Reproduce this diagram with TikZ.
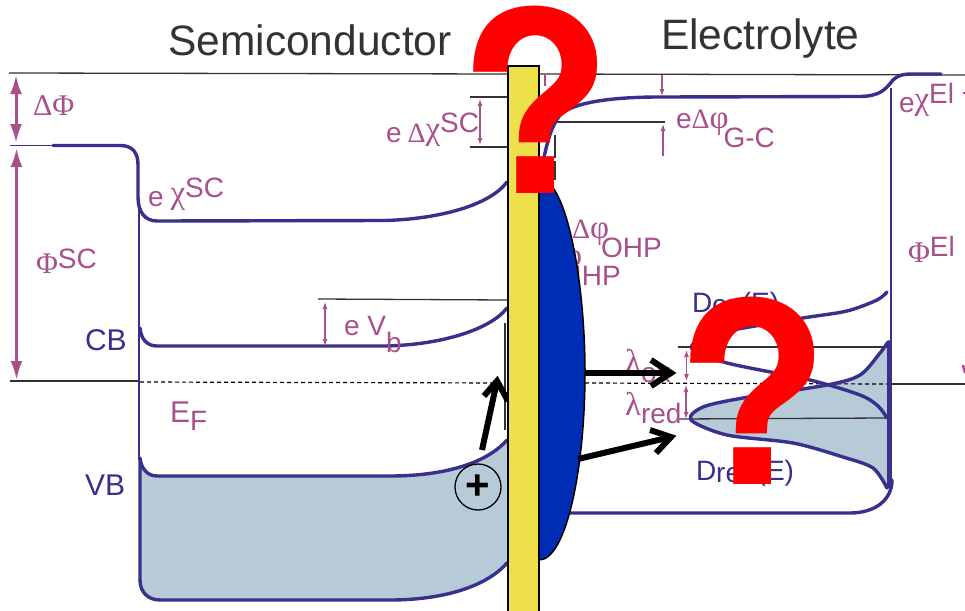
\documentclass[tikz,border=0pt]{standalone}
\usepackage{fontspec}
\setmainfont{Liberation Sans}
\newfontfamily\grk{Liberation Serif}
\newfontfamily\qf{TeX Gyre Heros}
\usetikzlibrary{arrows.meta}
\definecolor{pk}{HTML}{A94F8B}
\definecolor{bl}{HTML}{38308C}
\definecolor{vbfill}{HTML}{B7CAD8}
\definecolor{yel}{HTML}{EDE04A}
\definecolor{dkb}{HTML}{002DB5}
\definecolor{dk}{HTML}{333333}
\newcommand{\upr}[2]{\raisebox{#1pt}{#2}}
\newcommand{\G}[1]{{\grk #1}}
\newcommand{\GG}[1]{{\grk\fontsize{33}{33}\selectfont #1}}
\newcommand{\GX}{\raisebox{3pt}{\GG{χ}}}
\tikzset{
  lab/.style={anchor=base west,inner sep=0pt,outer sep=0pt,text=pk,font=\fontsize{28}{28}\selectfont},
  blab/.style={anchor=base west,inner sep=0pt,outer sep=0pt,text=bl,font=\fontsize{30}{30}\selectfont},
  title/.style={anchor=base west,inner sep=0pt,text=dk,font=\fontsize{42.5}{42.5}\selectfont},
  band/.style={draw=bl,line width=3.4pt,line cap=round,line join=round},
  thinb/.style={draw=bl,line width=1.1pt},
  lev/.style={draw=dk,line width=1.3pt},
  small/.style={draw=pk,line width=1.2pt,{Latex[length=7pt,width=5pt]}-{Latex[length=7pt,width=5pt]}},
  big/.style={draw=pk,line width=3pt,{Latex[length=19pt,width=12pt]}-{Latex[length=19pt,width=12pt]}},
  blk/.style={draw=black,line width=6pt,line join=miter,miter limit=10},
  qm/.style={anchor=base,inner sep=0pt,text=red,font=\fontsize{252}{252}\qf\bfseries\selectfont},
}
\begin{document}
\begin{tikzpicture}[x=1pt,y=-1pt]
\useasboundingbox (0,0) rectangle (965,610);
\clip (0,0) rectangle (965,610);
\fill[white] (0,0) rectangle (965,610);
% fills
\fill[vbfill] (140,455) .. controls (141,468) and (147,476) .. (157,476) -- (390,476) .. controls (440,476) and (485,465) .. (507,440) -- (507,563) .. controls (485,588) and (440,600) .. (390,600) -- (160,600) .. controls (148,600) and (140,592) .. (140,580) -- cycle;
\fill[vbfill] plot[smooth] coordinates {(888,342)(880,353)(860,375)(827,385)(743,398)(703,407)(691,420)(727,435)(793,443)(843,457)(873,468)(887,488)} -- cycle;
% levels
\coordinate (vacL) at (9,73); \coordinate (vacM) at (507,74); \coordinate (vacN) at (540,74); \coordinate (vacR) at (965,75);
\draw[lev] (vacL) -- (vacM); \draw[lev] (vacN) -- (vacR);
\draw[lev] (10,381) -- (138,381);
\draw[lev] (888,384) -- (965,384);
\draw[draw=black,line width=1.2pt,dash pattern=on 4pt off 3pt] (140,382) -- (505,383);
\draw[draw=black,line width=1.2pt,dash pattern=on 4pt off 3pt] (585,383) -- (888,384);
\draw[lev] (318,299) -- (507,300);
\draw[lev] (470,97) -- (507,97);
\draw[lev] (470,147) -- (507,147);
\draw[lev] (557,122) -- (665,122);
\draw[draw=dk,line width=1.2pt,dash pattern=on 23pt off 3pt] (555,135) -- (555,180);
\draw[draw=dk,line width=2pt] (505,323) -- (505,430);
\draw[lev] (678,347) -- (888,347);
\draw[lev] (677,419) -- (885,418);
% thin verticals
\draw[thinb] (10,145.5) -- (53,145.5);
\draw[thinb] (139,200) -- (139,460);
\draw[draw=bl,line width=2pt] (890.5,88) -- (890.5,490);
% bands
\draw[band] (53,145.5) -- (120,145.5) .. controls (132,145.5) and (138,152) .. (138,165) -- (138,197) .. controls (138,212) and (145,221) .. (157,221) -- (385,220.5) .. controls (440,219) and (490,205) .. (507,182);
\draw[band] (140,328) .. controls (141,339) and (147,346) .. (157,346) -- (385,346) .. controls (440,345) and (490,330) .. (507,308);
\draw[band] (140,580) -- (140,458) .. controls (141,468) and (147,476) .. (157,476) -- (390,476) .. controls (440,476) and (485,465) .. (507,440);
\draw[band] (140,580) .. controls (140,592) and (148,600) .. (160,600) -- (390,600) .. controls (440,600) and (485,588) .. (507,563);
\draw[band] (544,157) .. controls (548,140) and (551,127) .. (560,115) .. controls (570,105) and (600,97) .. (660,97) -- (860,96.5) .. controls (880,96) and (885,90) .. (893,80) .. controls (897,76) and (902,74) .. (912,74) -- (941,74);
\draw[band] (889,342) -- (889,487);
\draw[band] (570,513) -- (850,513) .. controls (875,513) and (892,500) .. (892,480);
\draw[band] plot[smooth] coordinates {(887,292)(877,300)(847,311)(803,318)(727,331)(702,338)(692,349)(727,363)(810,380)(860,395)(878,406)(887,418)};
\draw[band] plot[smooth] coordinates {(888,342)(880,353)(860,375)(827,385)(743,398)(703,407)(691,420)(727,435)(793,443)(843,457)(873,468)(887,488)};
% pink arrows
\coordinate (a1) at (16,75); \coordinate (a2) at (16,143);
\coordinate (a3) at (16.5,148); \coordinate (a4) at (16.5,380);
\draw[big] (a1) -- (a2);
\draw[big] (a3) -- (a4);
\draw[small] (325,302) -- (325,346);
\draw[small] (480,99) -- (480,145);
\draw[small] (686.5,350) -- (686.5,381);
\draw[small] (686,385) -- (686,419);
\draw[draw=pk,line width=1.2pt,-{Latex[length=7pt,width=5pt]}] (662,75) -- (662,96);
\draw[draw=pk,line width=1.2pt,-{Latex[length=7pt,width=5pt]}] (663,156) -- (663,124);
\draw[draw=pk,line width=1.2pt] (545,74) -- (545,86);
\draw[draw=pk,line width=2pt] (963,92.5) -- (965,92.5);
\draw[draw=pk,line width=2.5pt] (963,365) -- (965,373);
% labels
\node[title] (tsc) at (168,56) {Semiconductor};
\node[title] (tel) at (661,49) {Electrolyte};
\node[lab] (ldphi) at (33,115) {\fontsize{30}{30}\selectfont\G{ΔΦ}};
\node[lab] (lchi) at (148,206) {e\hspace{7pt}\GX\upr{9}{SC}};
\node[lab] (lphi) at (36,273) {\fontsize{30}{30}\selectfont\G{Φ}\fontsize{28}{28}\selectfont\upr{5}{SC}};
\node[blab] (lcb) at (85,350) {CB};
\node[blab] (lvb) at (85,495) {VB};
\node[lab] (lvb2) at (344,335) {e V\upr{-17}{b}};
\node[lab] (lef) at (170,422) {\fontsize{30}{30}\selectfont E\fontsize{28}{28}\selectfont\upr{-8}{F}};
\node[lab] (ldchi) at (386,142) {e\hspace{6pt}\G{Δ}\GX\upr{10}{SC}};
\node[lab] (lgc) at (676,128) {e\G{Δ}\GG{φ}\hspace{-5pt}\upr{-19}{G-C}};
\node[lab] (lchiel) at (899,112) {e\GX\upr{9}{El}};
\node[lab] (lphiel) at (908,262) {\fontsize{30}{30}\selectfont\G{Φ}\fontsize{28}{28}\selectfont\upr{6}{El}};
\node[lab] (lohp) at (572,238) {\G{Δ}\GG{φ}\hspace{-8pt}\upr{-19}{OHP}};
\node[lab] (lihp) at (545,266) {\G{Δ}\GG{φ}\hspace{-8pt}\upr{-19}{IHP}};
\node[lab] (lamox) at (625,372) {\GG{λ}\upr{-10}{ox}};
\node[lab] (lamred) at (625,415) {\GG{λ}\upr{-8}{red}};
\node[blab,font=\fontsize{28}{28}\selectfont] (dox) at (692,312) {D\upr{-2}{ox}(E)};
\node[blab,font=\fontsize{28}{28}\selectfont] (dred) at (696,480) {D\upr{-2}{red}(E)};
% hole arrow runs under the electrode
\coordinate (b1) at (482,450); \coordinate (b2) at (497,381);
\draw[blk] (b1) -- (b2);
\draw[blk] (484,396) -- (b2) -- (508,401);
% electrode
\draw[draw=black,line width=2pt,fill=yel] (507.5,66) rectangle (539,612);
\fill[dkb,draw=black,line width=1.5pt] (539,178) .. controls (566,178) and (585,280) .. (585,372) .. controls (585,470) and (566,560) .. (539,560) -- cycle;
% black arrows
\coordinate (b3) at (585,373); \coordinate (b4) at (671,373);
\coordinate (b5) at (578,459); \coordinate (b6) at (671,437);
\draw[blk] (b3) -- (b4);
\draw[blk] (651,360) -- (b4) -- (651,386);
\draw[blk] (b5) -- (b6);
\draw[blk] (650,430) -- (b6) -- (656,453);
\node[circle,draw=black,line width=1.3pt,minimum size=46pt,inner sep=0pt,font=\fontsize{42}{42}\selectfont\bfseries] (hole) at (478,487) {+};
% question marks
\node[qm] (q1) at (535,193) {?};
\node[qm] (q2) at (752,484) {?};
\end{tikzpicture}
\end{document}
